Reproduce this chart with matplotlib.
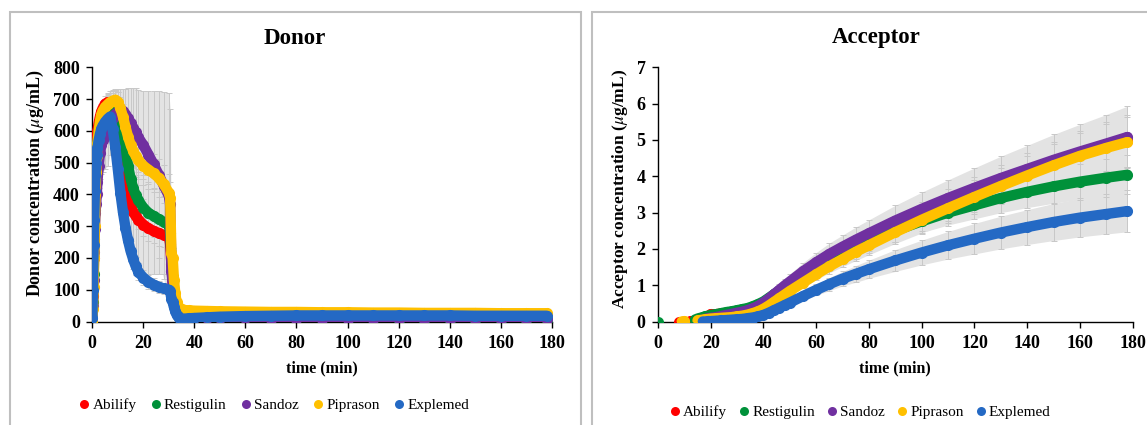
import matplotlib
matplotlib.use('Agg')
import matplotlib.pyplot as plt
from matplotlib.patches import Rectangle
from matplotlib.lines import Line2D
import numpy as np

nan = np.nan
plt.rcParams['font.family'] = ['Liberation Serif', 'DejaVu Serif']
plt.rcParams['mathtext.fontset'] = 'stix'

# inputs
names = ['Abilify', 'Restigulin', 'Sandoz', 'Piprason', 'Explemed']
colors = ['#ff0000', '#00913a', '#7030a0', '#ffc000', '#2469c4']

# donor compartment, time in min
t_donor = [0, 0.25, 0.5, 0.75, 1, 1.25, 1.5, 1.75, 2, 2.5, 3, 3.5, 4,
           5, 6, 7, 8, 9, 10, 11, 12, 13, 14, 15, 16, 17, 18,
           20, 22, 24, 26, 28, 30,
           30.5, 31, 31.5, 32, 32.5, 33, 33.5, 34,
           35, 36, 38, 40, 45, 50,
           60, 70, 80, 90, 100, 110, 120, 130, 140, 150, 160, 170, 178]

abilify_d = [0, 80, 200, 330, 430, 500, 545, 580, 600, 625, 645, 660, 670,
             685, 690, 680, 635, 580, 520, 470, 432, 402, 378, 360, 345, 332, 321,
             305, 293, 285, 278, 272, 266,
             245, 180, 120, 80, 55, 40, 32, 27,
             25, 24, 23, 22, 22, 21,
             21, 20, 20, 20, 19, 19, 18, 18, 18, 17, 17, 17, 16]
restigulin_d = [0, 60, 150, 260, 350, 420, 480, 525, 560, 600, 625, 640, 650,
                665, 675, 682, 688, 690, 682, 650, 600, 540, 490, 450, 420, 398, 382,
                358, 342, 332, 322, 313, 305,
                280, 200, 140, 95, 65, 45, 32, 25,
                20, 18, 16, 15, 13, 12,
                10, 9, 8, 8, 7, 7, 6, 6, 6, 5, 5, 5, 5]
sandoz_d = [0, 50, 130, 220, 290, 340, 370, 400, 440, 490, 530, 555, 570,
            590, 605, 625, 640, 652, 660, 664, 662, 652, 640, 625, 610, 595, 580,
            555, 525, 495, 462, 428, 395,
            370, 160, 120, 95, 70, 50, 35, 25,
            18, 15, 13, 12, 11, 10,
            10, 9, 9, 9, 8, 8, 8, 8, 7, 7, 7, 7, 7]
piprason_d = [0, 40, 110, 200, 300, 400, 470, 520, 560, 600, 630, 650, 662,
              675, 683, 690, 695, 698, 692, 672, 645, 612, 582, 557, 537, 521, 508,
              490, 478, 466, 452, 432, 405,
              390, 215, 200, 130, 90, 62, 48, 42,
              38, 36, 35, 34, 33, 32,
              31, 30, 30, 29, 29, 28, 28, 27, 27, 27, 26, 26, 26]
explemed_d = [10, 100, 240, 320, 410, 460, 500, 525, 545, 570, 590, 605, 615,
              628, 638, 645, 605, 550, 480, 405, 345, 295, 255, 222, 196, 174, 157,
              138, 125, 116, 109, 104, 100,
              95, 72, 60, 45, 32, 22, 16, 12,
              9, 9, 10, 11, 13, 15,
              17, 18, 19, 19, 19, 19, 19, 19, 19, 18, 18, 18, 18]

abilify_d_sd = [0, 5, 10, 15, 20, 25, 25, 25, 25, 25, 25, 25, 25,
                25, 25, 30, 40, 60, 80, 100, 110, 120, 130, 145, 155, 160, 160,
                155, 145, 135, 128, 122, 116,
                100, 70, 50, 35, 25, 15, 10, 8,
                6, 5, 5, 5, 5, 5,
                4, 4, 4, 4, 4, 4, 4, 4, 4, 4, 4, 4, 4]
restigulin_d_sd = [0, 5, 10, 15, 20, 20, 20, 20, 20, 20, 20, 20, 20,
                   20, 20, 25, 30, 35, 40, 50, 60, 70, 80, 85, 90, 90, 90,
                   90, 90, 85, 85, 80, 80,
                   70, 50, 35, 25, 15, 10, 8, 6,
                   5, 5, 5, 5, 5, 5,
                   4, 4, 4, 4, 4, 4, 4, 4, 4, 4, 4, 4, 4]
sandoz_d_sd = [0, 5, 10, 20, 30, 40, 50, 60, 60, 70, 80, 90, 100,
               110, 115, 100, 90, 80, 72, 67, 70, 80, 95, 110, 125, 140, 150,
               170, 200, 230, 262, 295, 325,
               300, 80, 50, 35, 25, 15, 10, 8,
               6, 5, 5, 5, 5, 5,
               4, 4, 4, 4, 4, 4, 4, 4, 4, 4, 4, 4, 4]
piprason_d_sd = [0, 5, 10, 15, 20, 20, 20, 20, 20, 20, 25, 25, 25,
                 25, 30, 30, 30, 30, 30, 35, 40, 45, 50, 55, 55, 60, 60,
                 60, 60, 60, 60, 60, 60,
                 50, 40, 30, 20, 15, 10, 8, 6,
                 5, 5, 5, 5, 5, 5,
                 4, 4, 4, 4, 4, 4, 4, 4, 4, 4, 4, 4, 4]
explemed_d_sd = [0, 5, 10, 15, 20, 20, 20, 20, 20, 20, 20, 20, 20,
                 20, 20, 20, 25, 30, 30, 30, 30, 30, 30, 30, 30, 28, 26,
                 24, 22, 20, 18, 16, 15,
                 15, 12, 10, 8, 6, 5, 4, 4,
                 3, 3, 3, 3, 3, 3,
                 3, 3, 3, 3, 3, 3, 3, 3, 3, 3, 3, 3, 3]

# acceptor compartment
t_acc = [0, 8, 9, 10, 11, 12, 13, 14, 15, 16, 17, 18, 19, 20,
         22, 24, 26, 28, 30, 32, 34, 36, 38, 40, 42, 44, 46, 48, 50,
         55, 60, 65, 70, 75, 80,
         90, 100, 110, 120, 130, 140, 150, 160, 170, 178]

abilify_a = [nan, 0, nan, nan, nan, 0.02, nan, nan, nan, 0.05, 0.08, 0.1, 0.15, 0.2,
             0.2, 0.22, 0.24, 0.26, 0.28, 0.3, 0.33, 0.38, 0.44, 0.5, 0.6, 0.7, 0.8, 0.9, 1.0,
             1.22, 1.45, 1.65, 1.85, 2.02, 2.2,
             2.55, 2.88, 3.2, 3.5, 3.8, 4.08, 4.35, 4.6, 4.82, 4.98]
restigulin_a = [0, nan, nan, nan, nan, nan, nan, 0.05, 0.08, 0.1, 0.12, 0.14, 0.16, 0.18,
                0.2, 0.23, 0.26, 0.28, 0.31, 0.34, 0.37, 0.42, 0.48, 0.55, 0.65, 0.75, 0.85, 0.95, 1.05,
                1.28, 1.5, 1.7, 1.88, 2.05, 2.2,
                2.5, 2.76, 3.0, 3.2, 3.4, 3.57, 3.72, 3.85, 3.96, 4.04]
sandoz_a = [nan, nan, nan, nan, nan, nan, nan, nan, nan, 0.03, 0.05, 0.07, 0.09, 0.1,
            0.12, 0.15, 0.18, 0.21, 0.24, 0.27, 0.31, 0.36, 0.43, 0.52, 0.63, 0.75, 0.87, 0.99, 1.1,
            1.38, 1.63, 1.86, 2.06, 2.25, 2.43,
            2.78, 3.1, 3.4, 3.68, 3.95, 4.2, 4.45, 4.68, 4.9, 5.08]
piprason_a = [nan, nan, 0, 0.01, nan, nan, nan, nan, 0.03, 0.04, 0.05, 0.06, 0.07, 0.08,
              0.09, 0.1, 0.11, 0.12, 0.14, 0.16, 0.19, 0.23, 0.28, 0.35, 0.44, 0.54, 0.64, 0.74, 0.84,
              1.07, 1.3, 1.52, 1.72, 1.92, 2.1,
              2.46, 2.8, 3.12, 3.43, 3.73, 4.02, 4.3, 4.56, 4.78, 4.94]
explemed_a = [nan, nan, nan, nan, nan, nan, nan, nan, nan, nan, 0.0, 0.0, 0.01, 0.01,
              0.02, 0.03, 0.04, 0.05, 0.06, 0.07, 0.09, 0.11, 0.14, 0.18, 0.24, 0.31, 0.38, 0.45, 0.52,
              0.7, 0.87, 1.03, 1.18, 1.31, 1.44,
              1.68, 1.9, 2.1, 2.28, 2.45, 2.6, 2.74, 2.86, 2.96, 3.04]

abilify_a_sd = [0, 0, 0, 0, 0, 0, 0, 0, 0, 0.02, 0.03, 0.03, 0.04, 0.05,
                0.05, 0.05, 0.06, 0.06, 0.07, 0.07, 0.08, 0.09, 0.1, 0.11, 0.12, 0.13, 0.14, 0.15, 0.16,
                0.19, 0.22, 0.25, 0.27, 0.3, 0.32,
                0.36, 0.4, 0.44, 0.48, 0.52, 0.56, 0.6, 0.64, 0.68, 0.72]
restigulin_a_sd = [0, 0, 0, 0, 0, 0, 0, 0.02, 0.02, 0.02, 0.03, 0.03, 0.03, 0.03,
                   0.04, 0.04, 0.05, 0.05, 0.05, 0.06, 0.06, 0.07, 0.08, 0.09, 0.1, 0.11, 0.12, 0.13, 0.14,
                   0.16, 0.18, 0.2, 0.22, 0.24, 0.26,
                   0.3, 0.33, 0.36, 0.39, 0.42, 0.45, 0.48, 0.5, 0.52, 0.54]
sandoz_a_sd = [0, 0, 0, 0, 0, 0, 0, 0, 0, 0.02, 0.02, 0.03, 0.03, 0.03,
               0.04, 0.04, 0.05, 0.05, 0.06, 0.06, 0.07, 0.08, 0.09, 0.11, 0.13, 0.15, 0.17, 0.19, 0.21,
               0.24, 0.27, 0.3, 0.32, 0.35, 0.37,
               0.42, 0.46, 0.5, 0.55, 0.6, 0.65, 0.7, 0.75, 0.8, 0.85]
piprason_a_sd = [0, 0, 0, 0, 0, 0, 0, 0, 0.01, 0.01, 0.01, 0.01, 0.02, 0.02,
                 0.02, 0.02, 0.02, 0.03, 0.03, 0.03, 0.04, 0.04, 0.05, 0.06, 0.07, 0.08, 0.09, 0.1, 0.11,
                 0.14, 0.17, 0.2, 0.23, 0.26, 0.28,
                 0.33, 0.38, 0.42, 0.46, 0.5, 0.54, 0.58, 0.62, 0.65, 0.68]
explemed_a_sd = [0, 0, 0, 0, 0, 0, 0, 0, 0, 0, 0.01, 0.01, 0.01, 0.01,
                 0.01, 0.01, 0.01, 0.01, 0.02, 0.02, 0.02, 0.03, 0.03, 0.04, 0.05, 0.06, 0.07, 0.08, 0.09,
                 0.12, 0.15, 0.18, 0.2, 0.23, 0.25,
                 0.3, 0.34, 0.38, 0.42, 0.45, 0.48, 0.51, 0.53, 0.55, 0.57]
# end inputs

donor = [abilify_d, restigulin_d, sandoz_d, piprason_d, explemed_d]
donor_sd = [abilify_d_sd, restigulin_d_sd, sandoz_d_sd, piprason_d_sd, explemed_d_sd]
acceptor = [abilify_a, restigulin_a, sandoz_a, piprason_a, explemed_a]
acceptor_sd = [abilify_a_sd, restigulin_a_sd, sandoz_a_sd, piprason_a_sd, explemed_a_sd]

W, H = 1147, 425
fig = plt.figure(figsize=(W / 100, H / 100), dpi=100)

# grey frames around each panel
fig.add_artist(Rectangle((9.5 / W, -0.1), (581 - 9.5) / W, 1.1 - 12.5 / H,
                         transform=fig.transFigure, fill=False, ec='#bfbfbf', lw=1.5))
fig.add_artist(Rectangle((591.5 / W, -0.1), 0.6, 1.1 - 12.5 / H,
                         transform=fig.transFigure, fill=False, ec='#bfbfbf', lw=1.5))

ax_d = fig.add_axes([92.3 / W, 103.5 / H, 459.4 / W, 254.2 / H])
ax_a = fig.add_axes([658.0 / W, 103.5 / H, 474.7 / W, 254.2 / H])


def draw_panel(ax, t, series, sds):
    t = np.array(t, dtype=float)
    for y, sd in zip(series, sds):
        y = np.array(y, dtype=float)
        sd = np.array(sd, dtype=float)
        ax.fill_between(t, y - sd, y + sd, color='#e3e3e3', lw=0, zorder=1)
        ax.errorbar(t, y, yerr=sd, fmt='none', ecolor='#c8c8c8', elinewidth=0.7,
                    capsize=2, capthick=0.7, zorder=2)
    for y, c in zip(series, colors):
        ax.plot(t, y, '-o', color=c, lw=7.5, ms=8, mew=0,
                solid_capstyle='round', zorder=3)
    for s in ['top', 'right']:
        ax.spines[s].set_visible(False)
    for s in ['left', 'bottom']:
        ax.spines[s].set_color('black')
        ax.spines[s].set_linewidth(1)
    ax.tick_params(direction='out', length=4, width=1, labelsize=13)
    ax.tick_params(axis='x', pad=6)
    ax.tick_params(axis='y', pad=5)
    ax.set_xlim(0, 180)
    ax.set_xticks(range(0, 181, 20))
    ax.set_xlabel('time (min)', fontsize=11.5, fontweight='bold', labelpad=6)


draw_panel(ax_d, t_donor, donor, donor_sd)
ax_d.set_ylim(0, 800)
ax_d.set_yticks(range(0, 801, 100))
ax_d.set_ylabel(r'Donor concentration ($\mu$g/mL)', fontsize=13, fontweight='bold')
ax_d.yaxis.set_label_coords(-0.100, 0.545)
for lab in ax_d.get_xticklabels() + ax_d.get_yticklabels():
    lab.set_fontweight('bold')

draw_panel(ax_a, t_acc, acceptor, acceptor_sd)
ax_a.set_ylim(0, 7)
ax_a.set_yticks(range(0, 8))
ax_a.set_ylabel(r'Acceptor concentration ($\mu$g/mL)', fontsize=12.5, fontweight='bold')
ax_a.yaxis.set_label_coords(-0.060, 0.52)
for lab in ax_a.get_xticklabels() + ax_a.get_yticklabels():
    lab.set_fontweight('bold')

fig.text(295 / W, 1 - 38 / H, 'Donor', ha='center', va='center', fontsize=16.5, fontweight='bold')
fig.text(876 / W, 1 - 38 / H, 'Acceptor', ha='center', va='center', fontsize=16.5, fontweight='bold')

handles = [Line2D([], [], ls='none', marker='o', ms=6.5, mew=0, color=c) for c in colors]
for cx, cy, gap in [(274, 405, 0.9), (860, 412, 0.75)]:
    fig.legend(handles, names, loc='center', bbox_to_anchor=(cx / W, 1 - cy / H),
               ncol=5, frameon=False, fontsize=11, handlelength=0.7,
               handletextpad=0.2, columnspacing=gap, borderpad=0)

fig.savefig('out.png', dpi=100)
